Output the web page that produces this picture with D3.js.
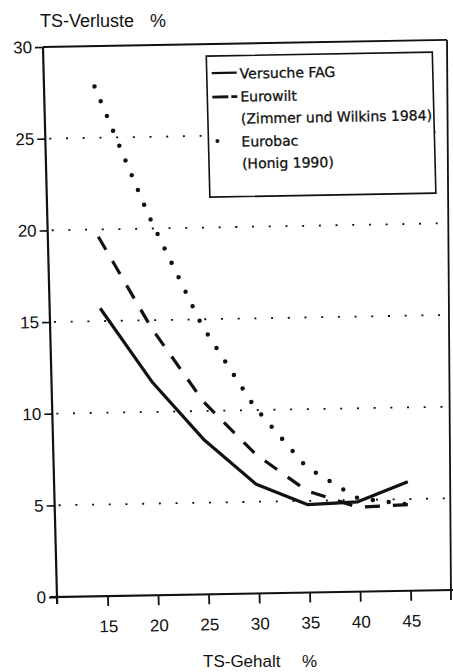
<!DOCTYPE html>
<html>
<head>
<meta charset="utf-8">
<script src="https://cdn.jsdelivr.net/npm/d3@7/dist/d3.min.js"></script>
<style>
  html, body { margin: 0; padding: 0; background: #fff; }
  svg { display: block; }
</style>
</head>
<body>
<script>
// ---- data ----
const tsGehalt   = [15, 20, 25, 30, 35, 40, 45];
const versucheFAG = [15.7, 11.6, 8.4, 5.95, 4.8, 4.9, 5.95];
const eurowilt    = [19.6, 14.6, 10.5, 7.6, 5.55, 4.6, 4.7];
const eurobac     = [27.8, 20.75, 14.7, 10.2, 6.85, 5.1, 4.7];
const xTickVals = [15, 20, 25, 30, 35, 40, 45];
const yTickVals = [0, 5, 10, 15, 20, 25, 30];
const gridVals  = [5, 10, 15, 20, 25];
const legendRows = ["Versuche FAG", "Eurowilt", "(Zimmer und Wilkins 1984)", "Eurobac", "(Honig 1990)"];

const W = 453, H = 672;
const ink = "#111";
const sans = "'Liberation Sans', Arial, Helvetica, sans-serif";

const svg = d3.select("body").append("svg")
  .attr("width", W).attr("height", H)
  .style("background", "#fff");

// the scanned figure is slightly skewed; reproduce with an affine transform
const g = svg.append("g")
  .attr("transform", "matrix(1,-0.0177,0.0255,1,57,597)");

const x = d3.scaleLinear().domain([10, 49.6]).range([0, 400]);
const y = d3.scaleLinear().domain([0, 30]).range([0, -550]);

// grid (dotted horizontal)
g.append("g").selectAll("line").data(gridVals).join("line")
  .attr("x1", 4).attr("x2", 404)
  .attr("y1", d => y(d)).attr("y2", d => y(d))
  .attr("stroke", ink).attr("stroke-width", 1.8)
  .attr("stroke-dasharray", "2,14.7");

// frame top line at 30
g.append("line")
  .attr("x1", 0).attr("x2", 404)
  .attr("y1", y(30)).attr("y2", y(30))
  .attr("stroke", ink).attr("stroke-width", 1.8);

// axes
const yAxis = d3.axisLeft(y).tickValues(yTickVals).tickSize(8).tickPadding(3);
const xAxis = d3.axisBottom(x).tickValues(xTickVals).tickSize(10).tickPadding(14);

const gy = g.append("g").call(yAxis);
const gx = g.append("g").call(xAxis);
[gx, gy].forEach(a => {
  a.select(".domain").remove();
  a.selectAll(".tick line").attr("stroke", ink).attr("stroke-width", 1.6);
  a.selectAll(".tick text").attr("fill", ink)
    .style("font-family", sans).style("font-size", "17px");
});
gx.selectAll(".tick line").attr("stroke-width", 1.8);

// axis lines (extend slightly past origin)
g.append("line").attr("x1", x(10)).attr("x2", x(10))
  .attr("y1", 7).attr("y2", y(30))
  .attr("stroke", ink).attr("stroke-width", 2.2);
g.append("line").attr("x1", -7).attr("x2", 410)
  .attr("y1", 0).attr("y2", 0)
  .attr("stroke", ink).attr("stroke-width", 2.2);

// series
const line = d3.line().x(d => x(d[0])).y(d => y(d[1]));
const zip = arr => tsGehalt.map((t, i) => [t, arr[i]]);

g.append("path").datum(zip(eurobac))
  .attr("d", line).attr("fill", "none")
  .attr("stroke", ink).attr("stroke-width", 4.5)
  .attr("stroke-linecap", "round")
  .attr("stroke-dasharray", "0,16");

g.append("path").datum(zip(eurowilt))
  .attr("d", line).attr("fill", "none")
  .attr("stroke", ink).attr("stroke-width", 3.2)
  .attr("stroke-dasharray", "15,13");

g.append("path").datum(zip(versucheFAG))
  .attr("d", line).attr("fill", "none")
  .attr("stroke", ink).attr("stroke-width", 3.2)
  .attr("stroke-linejoin", "round");

// legend
const lg = g.append("g");
lg.append("rect")
  .attr("x", 163).attr("y", -538).attr("width", 226).attr("height", 141)
  .attr("fill", "#fff").attr("stroke", ink).attr("stroke-width", 1.6);
const baseY = [-515, -492, -470, -447, -425];
lg.selectAll("text").data(legendRows).join("text")
  .attr("x", 196).attr("y", (d, i) => baseY[i])
  .attr("fill", ink)
  .attr("stroke", ink).attr("stroke-width", 0.3)
  .style("font-family", "'DejaVu Sans', sans-serif")
  .style("font-size", "14px")
  .text(d => d);
lg.append("line").attr("x1", 168).attr("x2", 193)
  .attr("y1", baseY[0] - 6).attr("y2", baseY[0] - 6)
  .attr("stroke", ink).attr("stroke-width", 2.2);
lg.append("line").attr("x1", 168).attr("x2", 193)
  .attr("y1", baseY[1] - 5).attr("y2", baseY[1] - 5)
  .attr("stroke", ink).attr("stroke-width", 2.8)
  .attr("stroke-dasharray", "16,3,6,100");
lg.append("line").attr("x1", 172).attr("x2", 189)
  .attr("y1", baseY[3] - 6).attr("y2", baseY[3] - 6)
  .attr("stroke", ink).attr("stroke-width", 4)
  .attr("stroke-linecap", "round")
  .attr("stroke-dasharray", "0,17");

// right frame line (absolute)
svg.append("line").attr("x1", 447).attr("x2", 451)
  .attr("y1", 40).attr("y2", 600)
  .attr("stroke", ink).attr("stroke-width", 1.8);

// axis titles
const t1 = svg.append("text").attr("x", 40).attr("y", 27)
  .attr("fill", ink).style("font-family", sans).style("font-size", "18px");
t1.append("tspan").text("TS-Verluste");
t1.append("tspan").attr("x", 150).text("%");

const t2 = svg.append("text").attr("x", 203).attr("y", 667)
  .attr("fill", ink).style("font-family", sans).style("font-size", "17px");
t2.append("tspan").text("TS-Gehalt");
t2.append("tspan").attr("x", 302).text("%");
</script>
</body>
</html>
